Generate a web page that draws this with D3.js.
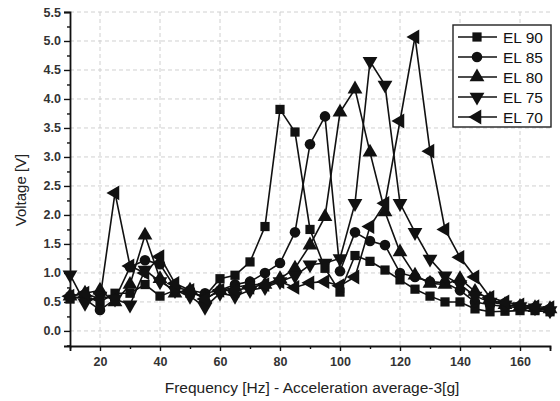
<html>
  <head>
    <script src="https://cdnjs.cloudflare.com/ajax/libs/d3/7.8.5/d3.min.js"></script>
    <style>
      body { margin: 0; background: #fff; }
      svg { display: block; font-family: "Liberation Sans", Arial, sans-serif; }
      .grid line { stroke: #d0d0d0; stroke-dasharray: 4,3; }
    </style>
  </head>
  <body>
    <svg width="560" height="401"></svg>
    <script>
      // frequency steps (Hz)
      const freqs = [10,15,20,25,30,35,40,45,50,55,60,65,70,75,80,85,90,95,100,105,110,115,120,125,130,135,140,145,150,155,160,165,170];

      const el90 = [0.55,0.6,0.5,0.65,0.65,0.8,0.6,0.7,0.65,0.6,0.9,0.96,1.19,1.8,3.82,3.43,1.75,1.08,0.67,1.3,1.2,1.05,0.88,0.72,0.6,0.5,0.5,0.38,0.33,0.34,0.35,0.35,0.33];
      const el85 = [0.6,0.55,0.36,0.55,1.1,1.22,1.15,0.75,0.7,0.65,0.7,0.8,0.85,1.0,1.17,1.7,3.22,3.7,1.03,1.7,1.55,1.48,1.0,0.93,0.85,0.83,0.7,0.5,0.45,0.42,0.4,0.38,0.35];
      const el80 = [0.6,0.65,0.7,0.5,0.8,1.65,0.9,0.65,0.7,0.55,0.7,0.75,0.8,0.8,0.9,1.08,1.48,1.97,3.77,4.17,3.08,2.05,1.36,0.96,0.82,0.8,0.9,0.68,0.55,0.45,0.42,0.4,0.38];
      const el75 = [0.97,0.48,0.6,0.55,0.45,1.05,0.85,0.7,0.6,0.41,0.65,0.6,0.7,0.75,0.85,0.95,1.14,1.17,1.25,2.2,4.65,4.24,2.2,1.7,1.24,0.95,0.8,0.6,0.5,0.45,0.42,0.4,0.35];
      const el70 = [0.6,0.65,0.55,2.38,1.12,1.0,1.28,0.82,0.7,0.55,0.7,0.7,0.75,0.8,0.85,0.75,0.83,0.85,0.78,0.93,1.8,2.2,3.62,5.07,3.1,1.75,1.27,0.93,0.58,0.5,0.45,0.42,0.4];

      const seriesNames = ["EL 90", "EL 85", "EL 80", "EL 75", "EL 70"];
      const seriesValues = [el90, el85, el80, el75, el70];

      const xTicks = [20,40,60,80,100,120,140,160];
      const yTicks = [0,0.5,1,1.5,2,2.5,3,3.5,4,4.5,5,5.5];

      const svg = d3.select("svg");
      const x = d3.scaleLinear().domain([10, 170]).range([70, 550]);
      const y = d3.scaleLinear().domain([-0.26, 5.5]).range([346, 12]);

      // grid
      svg.append("g").attr("class", "grid")
        .selectAll("line").data(yTicks).join("line")
        .attr("x1", 70).attr("x2", 550)
        .attr("y1", d => y(d)).attr("y2", d => y(d));
      svg.append("g").attr("class", "grid")
        .selectAll("line").data(xTicks).join("line")
        .attr("x1", d => x(d)).attr("x2", d => x(d))
        .attr("y1", 12).attr("y2", 346);

      // axes
      svg.append("g").attr("transform", "translate(0,346)")
        .call(d3.axisBottom(x).tickValues(xTicks).tickSize(5).tickPadding(6));
      svg.append("g").attr("transform", "translate(0,346)")
        .call(d3.axisBottom(x).tickValues(d3.range(10, 171, 10).filter(v => v % 20)).tickSize(3).tickFormat(""))
        .call(g => g.select(".domain").remove());
      svg.append("g").attr("transform", "translate(70,0)")
        .call(d3.axisLeft(y).tickValues(yTicks).tickFormat(d3.format(".1f")).tickSize(6).tickPadding(3));
      svg.append("g").attr("transform", "translate(70,0)")
        .call(d3.axisLeft(y).tickValues(d3.range(-0.25, 5.5, 0.5)).tickSize(3).tickFormat(""))
        .call(g => g.select(".domain").remove());

      svg.selectAll(".domain").attr("stroke", "#111").attr("stroke-width", 1.8);
      svg.selectAll(".tick line").attr("stroke", "#111").attr("stroke-width", 1.4);
      svg.selectAll(".tick text").attr("font-size", 12.5).attr("font-weight", "bold").attr("fill", "#333");

      // symbols
      const symbols = [
        {type: d3.symbolSquare, size: 85, rot: 0},
        {type: d3.symbolCircle, size: 88, rot: 0},
        {type: d3.symbolTriangle, size: 95, rot: 0},
        {type: d3.symbolTriangle, size: 95, rot: 180},
        {type: d3.symbolTriangle, size: 95, rot: -90}
      ];

      const line = d3.line().x((d, i) => x(freqs[i])).y(d => y(d));

      seriesValues.forEach((vals) => {
        svg.append("path").datum(vals)
          .attr("fill", "none").attr("stroke", "#111").attr("stroke-width", 1.6)
          .attr("d", line);
      });
      seriesValues.forEach((vals, k) => {
        const s = symbols[k];
        svg.append("g").selectAll("path").data(vals).join("path")
          .attr("d", d3.symbol().type(s.type).size(s.size))
          .attr("fill", "#111")
          .attr("transform", (d, i) => `translate(${x(freqs[i])},${y(d)}) rotate(${s.rot})`);
      });

      // legend
      const lg = svg.append("g");
      lg.append("rect").attr("x", 453).attr("y", 25).attr("width", 98).attr("height", 102)
        .attr("fill", "#fff").attr("stroke", "#222").attr("stroke-width", 1.4);
      seriesNames.forEach((name, k) => {
        const yy = 37 + k * 20;
        lg.append("line").attr("x1", 458).attr("x2", 497).attr("y1", yy).attr("y2", yy)
          .attr("stroke", "#111").attr("stroke-width", 1.6);
        lg.append("path").attr("d", d3.symbol().type(symbols[k].type).size(symbols[k].size))
          .attr("fill", "#111")
          .attr("transform", `translate(477,${yy}) rotate(${symbols[k].rot})`);
        lg.append("text").attr("x", 503).attr("y", yy).attr("dy", "0.36em")
          .attr("font-size", 15.5).attr("fill", "#111").text(name);
      });

      // titles
      svg.append("text").attr("x", 312).attr("y", 393).attr("text-anchor", "middle")
        .attr("font-size", 15.5).attr("fill", "#222").text("Frequency [Hz] - Acceleration average-3[g]");
      svg.append("text").attr("transform", "translate(26,190) rotate(-90)").attr("text-anchor", "middle")
        .attr("font-size", 15).attr("fill", "#222").text("Voltage [V]");
    </script>
  </body>
</html>
